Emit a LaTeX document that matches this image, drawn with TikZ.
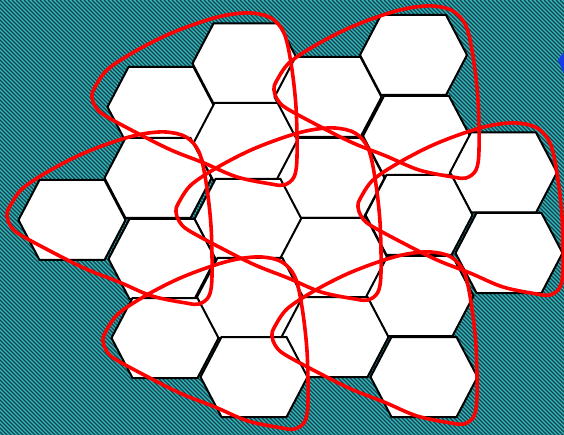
\documentclass[tikz,border=0pt]{standalone}
\definecolor{tealbg}{RGB}{48,185,190}
\definecolor{tealdark}{RGB}{22,64,74}
\definecolor{loopred}{RGB}{255,0,0}
\definecolor{bluebit}{RGB}{25,60,230}
\begin{document}
\begin{tikzpicture}[x=1pt,y=-1pt,
  hexline/.style={draw=black,fill=white,line width=2pt,line join=miter},
  loopline/.style={draw=loopred,line width=3.6pt},
  stripe/.style={draw=tealdark,line width=1.15pt},
  hexcell/.pic={\path[hexline] (-53.5,0) -- (-32.5,-40) -- (32.5,-40) -- (53.5,0) -- (32.5,40) -- (-32.5,40) -- cycle;},
  redloop/.pic={\path[loopline] plot[smooth cycle,tension=0.55] coordinates {
    (0,0) (2,-8) (15,-27) (42,-45) (75,-62) (109,-75) (135,-82) (159,-84) (179,-79) (192,-64) (199,-34) (204,10) (205,60) (202,80) (192,88) (179,87) (145,80) (112,66) (79,53) (45,36) (12,18) (3,9)};}
]
\useasboundingbox (0,0) rectangle (564,435);
\fill[tealbg] (0,0) rectangle (564,435);
\begin{scope}
\clip (0,0) rectangle (564,435);
\foreach \x in {-440,-436,...,568} \draw[stripe] (\x,0) -- ++(440,440);
\end{scope}
\fill[bluebit] (558,60) -- (564,52) -- (564,74) -- cycle;
% hexagons
\foreach \cx/\cy in {161/107, 246/63.5, 247/143, 328/97, 413.5/55, 416.5/136,
  503.5/172.5, 509/253, 419/215, 331/178, 248/219, 158/178, 72/220, 162/259,
  334/258, 420/296, 250/298, 165/338, 335/337, 254/377, 424/377}
  \pic at (\cx,\cy) {hexcell};
% red loops
\foreach \tx/\ty in {92/97, 274/90, 7/216, 176/212, 358/207, 103/341, 272/336}
  \pic at (\tx,\ty) {redloop};
\end{tikzpicture}
\end{document}
